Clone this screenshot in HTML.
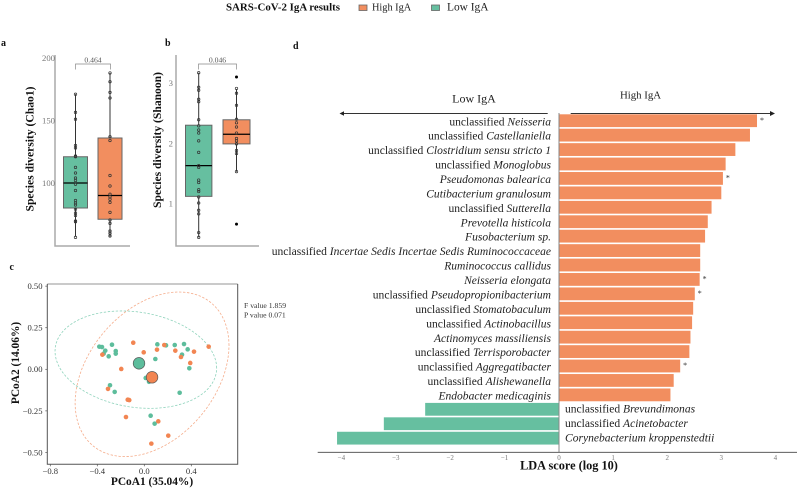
<!DOCTYPE html>
<html lang="en">
<head>
<meta charset="utf-8">
<title>SARS-CoV-2 IgA results</title>
<style>
html,body{margin:0;padding:0;background:#fff;}
body{width:797px;height:488px;overflow:hidden;}
svg{display:block;font-family:"Liberation Serif",serif;filter:blur(0.3px);}
</style>
</head>
<body>
<svg id="figure" xmlns="http://www.w3.org/2000/svg" width="797" height="488" viewBox="0 0 797 488">
  <rect x="0" y="0" width="797" height="488" fill="#ffffff"/>
  <g>
    <text x="226" y="10.5" font-size="10.9" font-weight="bold" fill="#111">SARS-CoV-2 IgA results</text>
    <rect x="359" y="5" width="8" height="5.5" fill="#F28E5F" stroke="#666" stroke-width="0.8"/>
    <text x="372" y="10.5" font-size="10.3" fill="#222">High IgA</text>
    <rect x="431.5" y="5" width="8" height="5.5" fill="#66BFA0" stroke="#666" stroke-width="0.8"/>
    <text x="447" y="10.5" font-size="11.4" fill="#222">Low IgA</text>
  </g>
  <text x="1" y="46" font-size="10" font-weight="bold" fill="#111">a</text>
  <text x="165" y="46" font-size="10" font-weight="bold" fill="#111">b</text>
  <text x="9.5" y="270" font-size="10" font-weight="bold" fill="#111">c</text>
  <text x="293" y="49" font-size="10" font-weight="bold" fill="#111">d</text>

  <text transform="translate(33.5,149) rotate(-90)" text-anchor="middle" font-size="11.6" font-weight="bold" fill="#111">Species diversity (Chao1)</text>
  <text transform="translate(161,140) rotate(-90)" text-anchor="middle" font-size="11.6" font-weight="bold" fill="#111">Species diversity (Shanoon)</text>
  <text x="152" y="485" text-anchor="middle" font-size="11.4" font-weight="bold" fill="#111">PCoA1 (35.04%)</text>
  <text transform="translate(19,363) rotate(-90)" text-anchor="middle" font-size="11.4" font-weight="bold" fill="#111">PCoA2 (14.06%)</text>
  <text x="244" y="308" font-size="7.7" fill="#333">F value 1.859</text>
  <text x="244" y="317.3" font-size="7.7" fill="#333">P value 0.071</text>

  <text x="474" y="102.5" text-anchor="middle" font-size="12" fill="#222">Low IgA</text>
  <text x="640.5" y="98.5" text-anchor="middle" font-size="10.8" fill="#222">High IgA</text>
  <g fill="#222">
    <line x1="343" y1="113.5" x2="547.7" y2="113.5" stroke="#333" stroke-width="0.9"/>
    <polygon points="339.5,113.5 344,111.2 344,115.8"/>
    <line x1="570.7" y1="113.5" x2="772" y2="113.5" stroke="#333" stroke-width="0.9"/>
    <polygon points="775,113.5 770,111 770,116"/>
  </g>
  <text x="569" y="469.5" text-anchor="middle" font-size="12.3" font-weight="bold" fill="#111">LDA score (log 10)</text>

  <g id="panel-a"></g>
  <g id="panel-b"></g>
  <g id="panel-c"></g>
  <g id="panel-d"></g>
</svg>

<script>
/* ---------- shared ---------- */
var groupColors = ["#66BFA0", "#F28E5F"];

/* ---------- panel a: Chao1 ---------- */
var chaoTicks = [100, 150, 200];
var chaoLowBox = [57, 80, 100, 121, 171];
var chaoHighBox = [57, 71, 90, 136, 188];
var chaoLowPoints = [171, 156.5, 151, 130, 128, 121.6, 121, 112.5, 108, 104, 102, 99, 94, 86, 84, 82.4, 79, 76, 74, 69.6, 69, 56.5];
var chaoHighPoints = [188, 181, 172.5, 168, 137, 134, 106, 97.6, 91, 89, 87, 84.5, 76.5, 70.4, 67.7, 61.6, 59.7, 57.6];
var chaoPValue = "0.464";

/* ---------- panel b: Shannon ---------- */
var shannonTicks = [1, 2, 3];
var shannonLowBox = [0.44, 1.12, 1.63, 2.3, 3.17];
var shannonHighBox = [1.53, 1.99, 2.15, 2.39, 2.9];
var shannonLowPoints = [3.17, 2.93, 2.88, 2.73, 2.69, 2.39, 2.29, 2.22, 2.17, 2.04, 1.85, 1.63, 1.6, 1.39, 1.35, 1.23, 1.2, 1.11, 1.01, 0.89, 0.83, 0.52, 0.44];
var shannonHighPoints = [2.91, 2.83, 2.63, 2.4, 2.34, 2.27, 2.17, 2.08, 2.04, 1.99, 1.88, 1.83, 1.53];
var shannonHighOutliers = [3.1, 0.66];
var shannonPValue = "0.046";

/* ---------- panel c: PCoA ---------- */
var pcoaXTicks = ["-0.8", "-0.4", "0.0", "0.4"];
var pcoaYTicks = ["0.50", "0.25", "0.00", "-0.25", "-0.50"];
var lowPcoa1 = [-0.383, -0.36, -0.332, -0.346, -0.275, -0.243, -0.243, -0.303, 0.111, 0.185, 0.259, 0.338, 0.369, 0.321, 0.383, 0.094, 0.012, 0.04, 0.301, -0.292, -0.252, 0.054, 0.088];
var lowPcoa2 = [0.136, 0.134, 0.112, 0.094, 0.148, 0.11, 0.094, 0.078, 0.15, 0.144, 0.146, 0.152, 0.12, 0.088, 0.006, 0.062, -0.052, -0.075, -0.141, -0.096, -0.136, -0.279, -0.327];
var highPcoa1 = [-0.357, -0.094, -0.005, -0.196, 0.108, 0.17, 0.264, 0.423, 0.312, 0.391, 0.548, -0.309, -0.141, -0.128, -0.156, 0.119, 0.204, 0.06];
var highPcoa2 = [0.088, 0.16, 0.102, 0.002, 0.118, 0.146, 0.112, 0.106, 0.074, 0.038, 0.136, -0.118, -0.183, -0.185, -0.287, -0.313, -0.399, -0.447];
var centroidPcoa1 = [-0.045, 0.066];
var centroidPcoa2 = [0.036, -0.048];
var ellipseCenterX = [-0.072, 0.066];
var ellipseCenterY = [0.058, -0.03];
var ellipseSpreadX = [0.688, 0.655];
var ellipseSpreadY = [0.293, 0.495];
var ellipseCorrelation = [-0.173, 0.35];

/* ---------- panel d: LDA ---------- */
var ldaTicks = [-4, -3, -2, -1, 0, 1, 2, 3, 4];
var ldaPrefixes = ["unclassified ", "unclassified ", "unclassified ", "unclassified ", "", "", "unclassified ", "", "", "unclassified ", "", "", "unclassified ", "unclassified ", "unclassified ", "", "unclassified ", "unclassified ", "unclassified ", "", "unclassified ", "unclassified ", ""];
var ldaTaxa = ["Neisseria", "Castellaniella", "Clostridium sensu stricto 1", "Monoglobus", "Pseudomonas balearica", "Cutibacterium granulosum", "Sutterella", "Prevotella histicola", "Fusobacterium sp.", "Incertae Sedis Incertae Sedis Ruminococcaceae", "Ruminococcus callidus", "Neisseria elongata", "Pseudopropionibacterium", "Stomatobaculum", "Actinobacillus", "Actinomyces massiliensis", "Terrisporobacter", "Aggregatibacter", "Alishewanella", "Endobacter medicaginis", "Brevundimonas", "Acinetobacter", "Corynebacterium kroppenstedtii"];
var ldaScores = [3.66, 3.53, 3.26, 3.08, 3.03, 3.0, 2.82, 2.75, 2.7, 2.61, 2.61, 2.6, 2.51, 2.48, 2.46, 2.43, 2.41, 2.24, 2.12, 2.06, -2.46, -3.22, -4.08];
var ldaSignificant = [1, 0, 0, 0, 1, 0, 0, 0, 0, 0, 0, 1, 1, 0, 0, 0, 0, 1, 0, 0, 0, 0, 0];

/* ---------- helpers ---------- */
var NS = "http://www.w3.org/2000/svg";
function mk(parent, tag, attrs, txt) {
  var e = document.createElementNS(NS, tag);
  for (var k in attrs) { e.setAttribute(k, attrs[k]); }
  if (txt !== undefined) { e.textContent = txt; }
  parent.appendChild(e);
  return e;
}

/* ---------- boxplots ---------- */
function drawBoxGroup(g, cx, halfW, box, pts, yFn, color, key) {
  var whisker = mk(g, "line", {x1: cx, x2: cx, y1: yFn(box[4]), y2: yFn(box[0]), stroke: "#333", "stroke-width": 1});
  
  
  var rect = mk(g, "rect", {x: cx - halfW, width: halfW * 2, y: yFn(box[3]), height: yFn(box[1]) - yFn(box[3]), fill: color, stroke: "#666", "stroke-width": 1});
  
  
  var med = mk(g, "line", {x1: cx - halfW, x2: cx + halfW, y1: yFn(box[2]), y2: yFn(box[2]), stroke: "#000", "stroke-width": 1.3});
  
  
  pts.forEach(function (v) {
    var c = mk(g, "circle", {cx: cx, cy: yFn(v), r: 1.25, fill: "none", stroke: "#333", "stroke-width": 0.7});
    
    
  });
}
function drawBracket(g, x1, x2, label, key) {
  var p = mk(g, "path", {d: "M" + x1 + " 69.5V64H" + x2 + "V69.5", fill: "none", stroke: "#888", "stroke-width": 0.7});
  
  
  var t = mk(g, "text", {x: (x1 + x2) / 2, y: 62.5, "text-anchor": "middle", "font-size": 7.7, fill: "#555"}, label);
  
  
}
function drawBoxAxes(g, left, right, ticks, yFn, labelX, key) {
  var ax = mk(g, "path", {d: "M" + left + " 55V246H" + right, fill: "none", stroke: "#aaa", "stroke-width": 1.5});
  
  
  ticks.forEach(function (v) {
    var t = mk(g, "text", {x: labelX, y: yFn(v) + 3, "text-anchor": "end", "font-size": 8.7, fill: "#777"}, String(v));
    
    
  });
}

var gA = document.getElementById("panel-a");
function yChao(v) { return 183 - (v - 100) * 1.25; }
drawBoxAxes(gA, 55, 130, chaoTicks, yChao, 55, "chao1");
drawBoxGroup(gA, 75.5, 12, chaoLowBox, chaoLowPoints, yChao, groupColors[0], "chao1-low");
drawBoxGroup(gA, 110, 12, chaoHighBox, chaoHighPoints, yChao, groupColors[1], "chao1-high");
drawBracket(gA, 75.5, 110.5, chaoPValue, "chao1");

var gB = document.getElementById("panel-b");
function yShannon(v) { return 143.3 - (v - 2) * 60.3; }
drawBoxAxes(gB, 176, 259, shannonTicks, yShannon, 173, "shannon");
drawBoxGroup(gB, 198.7, 13.2, shannonLowBox, shannonLowPoints, yShannon, groupColors[0], "shannon-low");
drawBoxGroup(gB, 236.5, 13.5, shannonHighBox, shannonHighPoints, yShannon, groupColors[1], "shannon-high");
shannonHighOutliers.forEach(function (v) {
  var o = mk(gB, "circle", {cx: 236.5, cy: yShannon(v), r: 1.5, fill: "#000"});
  
  
});
drawBracket(gB, 198.5, 236.5, shannonPValue, "shannon");

/* ---------- PCoA ---------- */
var gC = document.getElementById("panel-c");
function xPcoa(v) { return 144.3 + v * 117.5; }
function yPcoa(v) { return 369.3 - v * 166.3; }
var frameLeft = 47.3, frameRight = 237.7, frameTop = 284, frameBottom = 464.3;
var frameT = mk(gC, "line", {x1: frameLeft, x2: frameRight, y1: frameTop, y2: frameTop, stroke: "#aaa", "stroke-width": 1.3});


var frameO = mk(gC, "path", {d: "M" + frameLeft + " " + frameTop + "V" + frameBottom + "H" + frameRight + "V" + frameTop, fill: "none", stroke: "#555", "stroke-width": 1});


pcoaXTicks.forEach(function (s) {
  var v = parseFloat(s);
  var tk = mk(gC, "line", {x1: xPcoa(v), x2: xPcoa(v), y1: frameBottom, y2: frameBottom + 2, stroke: "#555", "stroke-width": 0.7});
  
  
  var t = mk(gC, "text", {x: xPcoa(v), y: 474, "text-anchor": "middle", "font-size": 8.6, fill: "#333"}, s.replace("-", "\u2212"));
  
  
});
pcoaYTicks.forEach(function (s) {
  var v = parseFloat(s);
  var tk = mk(gC, "line", {x1: frameLeft - 2, x2: frameLeft, y1: yPcoa(v), y2: yPcoa(v), stroke: "#555", "stroke-width": 0.7});
  
  
  var t = mk(gC, "text", {x: 42.5, y: yPcoa(v) + 2.9, "text-anchor": "end", "font-size": 8.6, fill: "#333"}, s.replace("-", "\u2212"));
  
  
});
function ellipsePath(i) {
  var d = "";
  var r = ellipseCorrelation[i];
  var q = Math.sqrt(1 - r * r);
  for (var a = 0; a <= 72; a++) {
    var t = a / 72 * 2 * Math.PI;
    var vx = ellipseCenterX[i] + ellipseSpreadX[i] * Math.cos(t);
    var vy = ellipseCenterY[i] + ellipseSpreadY[i] * (r * Math.cos(t) + q * Math.sin(t));
    d += (a ? "L" : "M") + xPcoa(vx).toFixed(2) + " " + yPcoa(vy).toFixed(2);
  }
  return d + "Z";
}
var ellLow = mk(gC, "path", {d: ellipsePath(0), fill: "none", stroke: "#8FD3BC", "stroke-width": 0.8, "stroke-dasharray": "2.4 1.6"});


var ellHigh = mk(gC, "path", {d: ellipsePath(1), fill: "none", stroke: "#F5AD8C", "stroke-width": 0.8, "stroke-dasharray": "2.4 1.6"});


lowPcoa1.forEach(function (v, i) {
  var c = mk(gC, "circle", {cx: xPcoa(v), cy: yPcoa(lowPcoa2[i]), r: 2.3, fill: "#5DBD9C"});
  
  
});
highPcoa1.forEach(function (v, i) {
  var c = mk(gC, "circle", {cx: xPcoa(v), cy: yPcoa(highPcoa2[i]), r: 2.3, fill: "#F28552"});
  
  
});
centroidPcoa1.forEach(function (v, i) {
  var c = mk(gC, "circle", {cx: xPcoa(v), cy: yPcoa(centroidPcoa2[i]), r: 5.8, fill: i ? "#F28552" : "#5DBD9C", stroke: "#555", "stroke-width": 0.7});
  
  
});

/* ---------- LDA bars ---------- */
var gD = document.getElementById("panel-d");
function xLda(v) { return 559 + v * (v < 0 ? 54.4 : 54.1); }
function yRow(i) { return 114.3 + i * 14.43; }
var barHeight = 12.8;
ldaScores.forEach(function (v, i) {
  var x0 = Math.min(xLda(0), xLda(v));
  var bar = mk(gD, "rect", {x: x0, y: yRow(i), width: Math.abs(xLda(v) - xLda(0)), height: barHeight, fill: groupColors[v < 0 ? 0 : 1]});
  
  
  var label = mk(gD, "text", {x: v < 0 ? 565 : 551, y: yRow(i) + (v < 0 ? 9.5 : 11), "text-anchor": v < 0 ? "start" : "end", "font-size": 11.55, fill: "#222"});
  
  
  if (ldaPrefixes[i]) {
    var pre = mk(label, "tspan", {}, ldaPrefixes[i]);
    
    
  }
  var name = mk(label, "tspan", {"font-style": "italic"}, ldaTaxa[i]);
  
  
  if (ldaSignificant[i]) {
    var star = mk(gD, "text", {x: xLda(v) + 3, y: yRow(i) + 8.5, "font-size": 8, fill: "#333"}, "*");
    
    
  }
});
var zeroLine = mk(gD, "line", {x1: xLda(0), x2: xLda(0), y1: 113, y2: 452.3, stroke: "#888", "stroke-width": 1});


var ldaAxis = mk(gD, "line", {x1: 317.7, x2: 797, y1: 452.3, y2: 452.3, stroke: "#444", "stroke-width": 0.9});


ldaTicks.forEach(function (v) {
  var t = mk(gD, "text", {x: xLda(v), y: 460, "text-anchor": "middle", "font-size": 7, fill: "#777"}, String(v).replace("-", "\u2212"));
  
  
});
</script>
</body>
</html>
